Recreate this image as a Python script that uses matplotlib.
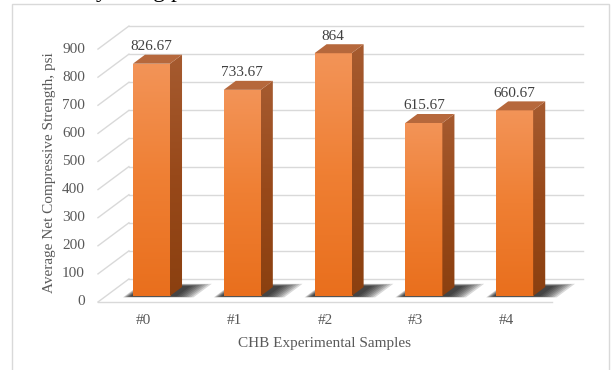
import numpy as np
import matplotlib
matplotlib.use("Agg")
import matplotlib.pyplot as plt
from matplotlib.patches import Polygon, Rectangle
from matplotlib.colors import LinearSegmentedColormap

# ---- data ----
samples = ["#0", "#1", "#2", "#3", "#4"]
strength = [826.67, 733.67, 864, 615.67, 660.67]
value_labels = ["826.67", "733.67", "864", "615.67", "660.67"]
y_ticks = [0, 100, 200, 300, 400, 500, 600, 700, 800, 900]

# ---- pseudo-3D projection: depth d in [0, 1] shifts points up/right ----
DX, DY = 0.341, 82.0          # full depth offset (x units, value units)
D_FRONT, D_BACK = 0.26, 0.65  # depth of the column front / back faces
HALF_W = 0.204                # half column width (x units)

SERIF = "Liberation Serif"
GRID = "#d9d9d9"
TXT = "#595959"

# top -> bottom colour ramps
front_cmap = LinearSegmentedColormap.from_list("front", ["#f39458", "#ef7f33", "#e96f1d"])
side_cmap = LinearSegmentedColormap.from_list("side", ["#a65b30", "#98491a", "#8b4010"])

fig = plt.figure(figsize=(6.11, 3.70), dpi=100)
ax = fig.add_axes([0, 0, 1, 1])
ax.axis("off")

# back wall gridlines and left wall diagonals
for v in y_ticks:
    ax.plot([-0.5 + DX, 4.5 + DX], [v + DY, v + DY], color=GRID, lw=1.0, zorder=1)
    ax.plot([-0.5, -0.5 + DX], [v, v + DY], color=GRID, lw=1.0, zorder=1)
    ax.text(-0.643, v, str(v), ha="right", va="center", fontsize=11,
            family=SERIF, color=TXT)
# front edge of the floor
ax.plot([-0.5, 4.5], [0, 0], color=GRID, lw=1.0, zorder=1)


def floor_pt(x, d):
    return (x + d * DX, d * DY)


grad = np.linspace(0, 1, 256).reshape(-1, 1)

for i, v in enumerate(strength):
    # soft floor shadow (stacked translucent layers, darkest near the column)
    for t in np.linspace(1.0, 0.0, 8):
        x0 = i - HALF_W - 0.02 - 0.07 * t
        x1 = i + HALF_W + 0.08 + 0.20 * t
        d0 = D_FRONT - 0.02 - 0.04 * t
        d1 = D_BACK + 0.04 + 0.10 * t
        pts = [floor_pt(x0, d0), floor_pt(x1, d0), floor_pt(x1, d1), floor_pt(x0, d1)]
        ax.add_patch(Polygon(pts, closed=True, facecolor="black",
                             edgecolor="none", alpha=0.15, zorder=2))

    xc = i + D_FRONT * DX
    yb = D_FRONT * DY
    xl, xr = xc - HALF_W, xc + HALF_W
    ddx = (D_BACK - D_FRONT) * DX
    ddy = (D_BACK - D_FRONT) * DY

    # front face with vertical gradient
    bar = ax.bar(xc, v, width=2 * HALF_W, bottom=yb, color="none",
                 edgecolor="none", zorder=4)[0]
    im = ax.imshow(grad, extent=[xl, xr, yb, yb + v], aspect="auto",
                   cmap=front_cmap, origin="upper", zorder=4)
    im.set_clip_path(bar)

    # side face
    side = Polygon([(xr, yb), (xr + ddx, yb + ddy), (xr + ddx, yb + ddy + v),
                    (xr, yb + v)], closed=True, facecolor="none",
                   edgecolor="none", zorder=4)
    ax.add_patch(side)
    im2 = ax.imshow(grad, extent=[xr, xr + ddx, yb, yb + ddy + v], aspect="auto",
                    cmap=side_cmap, origin="upper", zorder=4)
    im2.set_clip_path(side)

    # top face
    top = Polygon([(xl, yb + v), (xr, yb + v), (xr + ddx, yb + ddy + v),
                   (xl + ddx, yb + ddy + v)], closed=True,
                  facecolor="#b6683c", edgecolor="none", zorder=5)
    ax.add_patch(top)

    # value label
    ax.text(xc, v + D_BACK * DY + 6, value_labels[i], ha="center", va="bottom",
            fontsize=11, family=SERIF, color="#404040", zorder=6)

    # category label
    ax.text(i, -67, samples[i], ha="center", va="center", fontsize=11,
            family=SERIF, color=TXT)

ax.text(2.0, -146, "CHB Experimental Samples", ha="center", va="center",
        fontsize=11, family=SERIF, color=TXT)
ax.text(-1.029, 462, "Average Net Compressive Strength, psi", ha="center",
        va="center", rotation=90, fontsize=11, family=SERIF, color=TXT)

ax.set_xlim(-1.579, 5.150)
ax.set_ylim(-242, 1074.7)

# chart frame
fig.add_artist(Rectangle((12 / 611, -0.1), (609 - 12) / 611, 1.1 - 4 / 370,
                         transform=fig.transFigure, fill=False,
                         edgecolor=GRID, lw=1.0))
# tail of the caption line above the chart
fig.text(96 / 611, 1 + 3 / 370, "y using p", fontsize=17, family=SERIF,
         color="black", ha="left", va="baseline")

fig.savefig("out.png", dpi=100)
